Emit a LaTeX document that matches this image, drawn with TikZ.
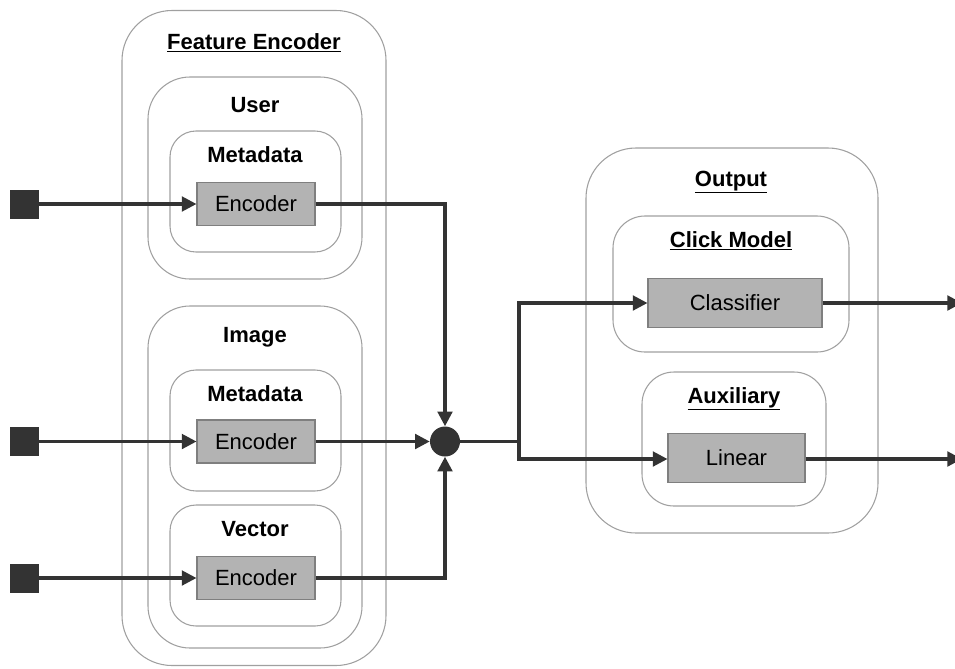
\documentclass[tikz,border=0pt]{standalone}
\usepackage{fontspec}
\setmainfont{Liberation Sans}
\usetikzlibrary{arrows.meta}
\definecolor{contc}{HTML}{A0A0A0}
\definecolor{boxfill}{HTML}{B3B3B3}
\definecolor{boxdraw}{HTML}{7F7F7F}
\definecolor{dark}{HTML}{333333}
\tikzset{
  cont/.style n args={3}{draw=contc, line width=0.8pt, rounded corners=#3*0.75pt,
    minimum width=#1*0.75pt, minimum height=#2*0.75pt, inner sep=0pt},
  title/.style={font=\fontsize{16.5}{19}\selectfont\bfseries, text=black, inner sep=0pt, anchor=base},
  blk/.style n args={2}{draw=boxdraw, fill=boxfill, line width=0.8pt,
    minimum width=#1*0.75pt, minimum height=#2*0.75pt, inner sep=0pt,
    font=\fontsize{16.5}{19}\selectfont, text=black},
  insq/.style={fill=dark, minimum size=29*0.75pt, inner sep=0pt},
  dotn/.style={circle, fill=dark, minimum size=30*0.75pt, inner sep=0pt},
  wire/.style={draw=dark, line width=2.3pt},
  conn/.style={wire, -{Triangle[length=11pt,width=11pt]}},
}
\begin{document}
\begin{tikzpicture}[x=0.75pt, y=-0.75pt]
\useasboundingbox (0,0) rectangle (955,668);
% containers
\node[cont={264}{655}{50}] (fe) at (254,338) {};
\node[title] (fet) at (254,49) {\underline{Feature Encoder}};
\node[cont={214}{202}{42}] (user) at (255,178) {};
\node[title] (usert) at (255,112) {User};
\node[cont={171}{121}{26}] (umeta) at (255.5,191.5) {};
\node[title] (umetat) at (255,162) {Metadata};
\node[cont={214}{342}{42}] (img) at (255,477) {};
\node[title] (imgt) at (255,342) {Image};
\node[cont={171}{121}{26}] (imeta) at (255.5,430.5) {};
\node[title] (imetat) at (255,401) {Metadata};
\node[cont={171}{121}{26}] (vec) at (255.5,565.5) {};
\node[title] (vect) at (255,536) {Vector};
\node[cont={292}{385}{50}] (out) at (732,340.5) {};
\node[title] (outt) at (731,186) {\underline{Output}};
\node[cont={236}{136}{32}] (click) at (731,284) {};
\node[title] (clickt) at (731,247) {\underline{Click Model}};
\node[cont={184}{134}{32}] (aux) at (734,439) {};
\node[title] (auxt) at (734,403) {\underline{Auxiliary}};
% blocks
\node[blk={118}{43}] (enc1) at (256,204) {Encoder};
\node[blk={118}{43}] (enc2) at (256,441.5) {Encoder};
\node[blk={118}{43}] (enc3) at (256,578) {Encoder};
\node[blk={174}{49}] (cls) at (735,303) {Classifier};
\node[blk={137}{49}] (lin) at (736.5,458) {Linear};
% inputs
\node[insq] (in1) at (24.5,204) {};
\node[insq] (in2) at (24.5,441.5) {};
\node[insq] (in3) at (24.5,578) {};
\node[dotn] (dot) at (445,441.5) {};
\coordinate (j) at (519,441.5);
\coordinate (o1) at (962,303);
\coordinate (o2) at (962,459);
% connectors
\draw[conn] (in1) -- (enc1);
\draw[conn] (in2) -- (enc2);
\draw[conn] (in3) -- (enc3);
\draw[conn] (enc1.east) -| (dot);
\draw[conn] (enc2.east) -- (dot);
\draw[conn] (enc3.east) -| (dot);
\draw[wire] (dot.east) -- (j);
\draw[conn] (j) |- (cls);
\draw[conn] (j) |- (lin.west |- 0,459);
\draw[conn] (cls) -- (o1);
\draw[conn] (lin.east |- 0,459) -- (o2);
\end{tikzpicture}
\end{document}
